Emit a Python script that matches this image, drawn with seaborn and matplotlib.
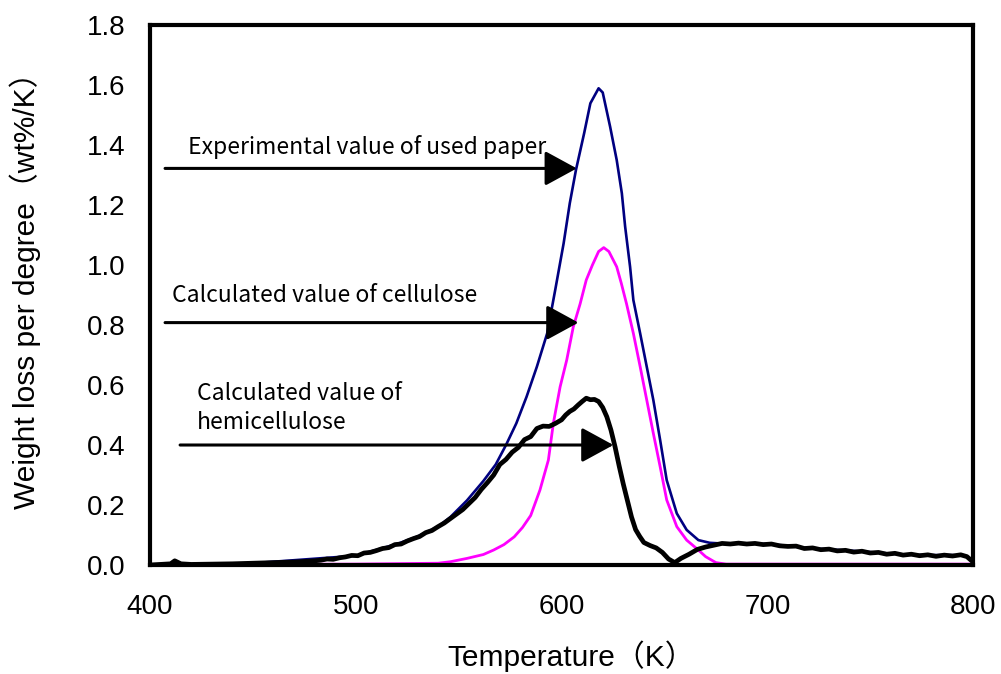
import matplotlib
matplotlib.use("Agg")
import matplotlib.pyplot as plt
import seaborn as sns
import pandas as pd

# ---------------- data ----------------
exp_T = [400, 450, 500, 520, 530, 540, 546, 554, 562, 568, 573, 578, 583, 588, 593, 597,
         601, 604, 607, 611, 614, 618, 620, 623.6, 626.8, 629.3, 630.9, 633.3, 634.9, 638.2,
         641.4, 644.6, 647.9, 651.1, 656, 660.8, 666.5, 672, 677, 682, 690, 700, 710, 720,
         730, 740, 750, 760, 770, 780, 790, 796, 800]
exp_v = [0.0, 0.006, 0.031, 0.070, 0.095, 0.128, 0.160, 0.215, 0.280, 0.335, 0.400, 0.472,
         0.561, 0.661, 0.772, 0.920, 1.072, 1.206, 1.317, 1.440, 1.539, 1.589, 1.575, 1.461,
         1.350, 1.239, 1.128, 0.994, 0.883, 0.772, 0.661, 0.550, 0.417, 0.283, 0.172, 0.117,
         0.083, 0.074, 0.072, 0.072, 0.072, 0.070, 0.064, 0.056, 0.052, 0.048, 0.043, 0.038,
         0.034, 0.033, 0.033, 0.031, 0.015]

cel_T = [400, 450, 500, 540, 546, 554, 562, 567, 572, 577, 581, 585, 589.5, 593.6, 596,
         599.3, 602.5, 605.7, 609, 612, 615, 618, 620.5, 623, 626.8, 629, 631.6, 634.9,
         638.2, 641.4, 644.6, 647.9, 651.1, 656, 660.8, 666.5, 670, 675, 680, 800]
cel_v = [0.002, 0.002, 0.003, 0.006, 0.011, 0.022, 0.035, 0.050, 0.068, 0.094, 0.125, 0.165,
         0.250, 0.350, 0.472, 0.594, 0.683, 0.794, 0.870, 0.950, 1.000, 1.045, 1.058, 1.045,
         0.994, 0.940, 0.870, 0.772, 0.661, 0.550, 0.439, 0.328, 0.217, 0.128, 0.083, 0.050,
         0.028, 0.008, 0.003, 0.003]

hem_T = [400, 405, 410, 412, 415, 420, 430, 440, 450, 460, 470, 475, 480, 483, 486, 489,
         492, 495, 498, 501, 504, 507, 510, 513, 516, 519, 522, 525, 528, 531, 534, 537,
         540, 543, 546, 549, 552, 555, 558, 561, 564, 567, 570, 573, 576, 579, 582, 585,
         588, 591, 594, 597, 600, 602, 604, 606, 608, 610, 612, 614, 616, 618, 620, 622,
         624, 626, 628, 630, 632, 634, 636, 638, 640, 643, 646, 649, 652, 655, 658, 662,
         666, 670, 674, 678, 682, 686, 690, 694, 698, 702, 706, 710, 714, 718, 722, 726,
         730, 734, 738, 742, 746, 750, 754, 758, 762, 766, 770, 774, 778, 782, 786, 790,
         794, 797, 800]
hem_v = [0.0, 0.002, 0.004, 0.014, 0.004, 0.002, 0.003, 0.004, 0.006, 0.008, 0.010, 0.012,
         0.014, 0.016, 0.020, 0.019, 0.024, 0.027, 0.032, 0.031, 0.040, 0.042, 0.048, 0.055,
         0.058, 0.068, 0.070, 0.080, 0.088, 0.095, 0.108, 0.115, 0.128, 0.140, 0.155, 0.170,
         0.185, 0.205, 0.225, 0.252, 0.275, 0.300, 0.335, 0.352, 0.376, 0.392, 0.418, 0.428,
         0.455, 0.463, 0.462, 0.472, 0.484, 0.500, 0.512, 0.520, 0.533, 0.545, 0.556, 0.551,
         0.552, 0.545, 0.525, 0.494, 0.450, 0.394, 0.330, 0.270, 0.215, 0.160, 0.118, 0.095,
         0.075, 0.065, 0.057, 0.042, 0.020, 0.008, 0.022, 0.036, 0.052, 0.060, 0.066, 0.072,
         0.070, 0.073, 0.070, 0.072, 0.068, 0.070, 0.064, 0.062, 0.063, 0.055, 0.057, 0.051,
         0.053, 0.047, 0.049, 0.043, 0.046, 0.040, 0.042, 0.036, 0.039, 0.033, 0.036, 0.031,
         0.034, 0.029, 0.033, 0.030, 0.034, 0.028, 0.010]

x_ticks = [400, 500, 600, 700, 800]
y_ticks = [0.0, 0.2, 0.4, 0.6, 0.8, 1.0, 1.2, 1.4, 1.6, 1.8]

labels = ["Experimental value of used paper", "Calculated value of cellulose",
          "Calculated value of\nhemicellulose"]
label_xy = [(418.6, 1.394), (410.7, 0.897), (422.8, 0.523)]
arrow_from = [(407.3, 1.322), (407.3, 0.808), (414.6, 0.400)]
arrow_to = [(607.4, 1.322), (608.2, 0.808), (625.2, 0.400)]

x_label = "Temperature（K）"
y_label = "Weight loss per degree（wt%/K）"

# ---------------- plot ----------------
sns.set_theme(style="white")
plt.rcParams["font.family"] = ["Noto Sans CJK JP", "DejaVu Sans"]
plt.rcParams["text.color"] = "black"
plt.rcParams["axes.labelcolor"] = "black"
plt.rcParams["xtick.color"] = "black"
plt.rcParams["ytick.color"] = "black"
label_family = ["Liberation Sans", "Noto Sans CJK JP"]

fig = plt.figure(figsize=(10.01, 6.74), dpi=100)
ax = fig.add_axes([0.1499, 0.1617, 0.8222, 0.8012])

df_exp = pd.DataFrame({"T": exp_T, "v": exp_v})
df_cel = pd.DataFrame({"T": cel_T, "v": cel_v})
df_hem = pd.DataFrame({"T": hem_T, "v": hem_v})

sns.lineplot(data=df_exp, x="T", y="v", ax=ax, color="#000080", lw=1.9, sort=False)
sns.lineplot(data=df_cel, x="T", y="v", ax=ax, color="#FF00FF", lw=2.0, sort=False)
sns.lineplot(data=df_hem, x="T", y="v", ax=ax, color="black", lw=3.4, sort=False)

for txt, (tx, ty) in zip(labels, label_xy):
    ax.text(tx, ty, txt, fontsize=16.5, va="center", ha="left", color="black",
            linespacing=1.32, family=["Noto Sans CJK JP", "DejaVu Sans"])
for (x0, y0), (x1, y1) in zip(arrow_from, arrow_to):
    ax.annotate("", xy=(x1, y1), xytext=(x0, y0),
                arrowprops=dict(arrowstyle="-|>,head_length=1.1,head_width=0.6",
                                color="black", lw=2.2, shrinkA=0, shrinkB=0,
                                mutation_scale=18))

ax.set_xlim(400, 800)
ax.set_ylim(0, 1.8)
ax.set_xticks(x_ticks)
ax.set_yticks(y_ticks)
ax.set_xticklabels([str(t) for t in x_ticks], family="Liberation Sans", fontsize=20)
ax.set_yticklabels([f"{t:.1f}" for t in y_ticks], family="Liberation Sans", fontsize=20)
ax.tick_params(axis="both", direction="in", length=7, width=1, color="#808080",
               labelcolor="black")
ax.tick_params(axis="x", pad=21)
ax.tick_params(axis="y", pad=18)
for s in ax.spines.values():
    s.set_visible(True)
    s.set_color("black")
    s.set_linewidth(3)

ax.set_xlabel(x_label, fontsize=21.5, family=label_family, color="black")
ax.set_ylabel(y_label, fontsize=21.5, family=label_family, color="black")
ax.xaxis.set_label_coords(0.512, -0.14)
ax.yaxis.set_label_coords(-0.132, 0.522)
ax.grid(False)

fig.savefig("out.png", dpi=100)
